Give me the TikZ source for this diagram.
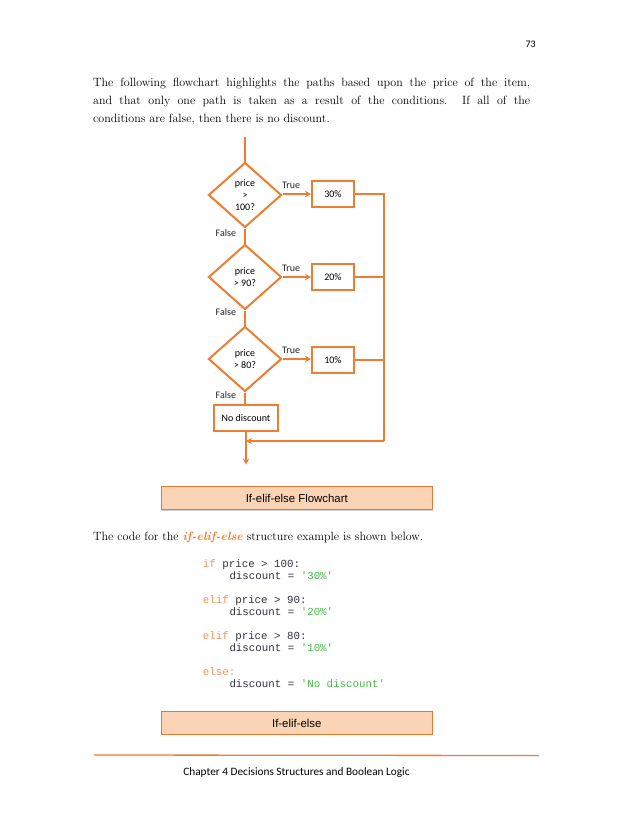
\documentclass[tikz,border=0pt]{standalone}
\usepackage{fontspec}
\setmonofont{Liberation Mono}
\newfontfamily\calibri{Carlito}
\newfontfamily\arialfont{Liberation Sans}
\usetikzlibrary{shapes.geometric,arrows.meta,shadows}

\definecolor{flowline}{RGB}{237,125,49}
\definecolor{capfill}{RGB}{251,212,181}
\definecolor{capline}{RGB}{226,120,52}
\definecolor{kwcol}{RGB}{242,150,85}
\definecolor{strcol}{RGB}{70,190,70}
\definecolor{codecol}{RGB}{50,50,60}

\tikzset{
	flow/.style={line width=2pt, color=flowline},
	flowarrow/.style={flow, -{Stealth[length=6pt,width=6.5pt,inset=2pt]}},
	decision/.style={diamond, draw=flowline, line width=2pt, inner sep=0pt,
		minimum width=73pt, minimum height=65pt, align=center,
		font=\calibri\fontsize{10}{12.3}\selectfont},
	result/.style={rectangle, draw=flowline, line width=2pt, inner sep=0pt,
		minimum width=42pt, minimum height=26pt, font=\calibri\fontsize{10}{12}\selectfont},
	flowlabel/.style={font=\calibri\fontsize{10}{12}\selectfont, inner sep=0pt, text=black!85},
	caption/.style={rectangle, draw=capline, fill=capfill, line width=1pt,
		minimum width=271.5pt, minimum height=23.3pt, inner sep=0pt,
		drop shadow={shadow xshift=0.8pt, shadow yshift=-0.8pt, fill=black!35},
		font=\arialfont\fontsize{11.4}{13}\selectfont},
	codeline/.style={anchor=base west, inner sep=0pt, text=codecol,
		font=\ttfamily\fontsize{10.8}{12}\selectfont}
}

\newcommand{\kw}[1]{\textcolor{kwcol}{#1}}
\newcommand{\str}[1]{\textcolor{strcol}{#1}}

\begin{document}
\begin{tikzpicture}[x=1pt, y=-1pt]
	%%%%% START %%%%%
	\useasboundingbox[fill=white] (0,0) rectangle (630,815);
	
	\node[anchor=base east, inner sep=0pt, font=\calibri\fontsize{10}{12}\selectfont] (pagenum) at (536,47.5) {73};
	
	\node[anchor=north west, inner sep=0pt, text width=437pt, align=justify,
		font=\fontsize{12}{18.3}\selectfont] (intro) at (93,77.7)
		{The following flowchart highlights the paths based upon the price of the item,\linebreak
		and that only one path is taken as a result of the conditions.\ \ If all of the\linebreak
		conditions are false, then there is no discount.};
	
	% decisions
	\node[decision] (dec1) at (245,195) {price\\>\\100?};
	\node[decision] (dec2) at (245,277) {price\\> 90?};
	\node[decision] (dec3) at (245,359) {price\\> 80?};
	
	% results
	\node[result] (res1) at (333,194) {30\%};
	\node[result] (res2) at (333,277) {20\%};
	\node[result] (res3) at (333,360) {10\%};
	\node[result, minimum width=64pt] (nodisc) at (246,418) {No discount};
	
	\coordinate (start) at (245,137);
	\coordinate (busTop) at (384,194);
	\coordinate (busBot) at (384,441);
	\coordinate (stop) at (246,464.5);
	
	\draw[flow] (start) -- (dec1.north);
	\draw[flow] (dec1.south) -- (dec2.north) node[flowlabel, pos=0.28, left=8pt] {False};
	\draw[flow] (dec2.south) -- (dec3.north) node[flowlabel, pos=0.12, left=8pt] {False};
	\draw[flow] (dec3.south) -- (dec3.south |- nodisc.north) node[flowlabel, pos=0.2, left=8pt] {False};
	
	\draw[flowarrow] (dec1.east |- res1.west) -- (res1.west) node[flowlabel, pos=0.3, above=4pt] {True};
	\draw[flowarrow] (dec2.east) -- (dec2.east -| res2.west) node[flowlabel, pos=0.3, above=4pt] {True};
	\draw[flowarrow] (dec3.east) -- (dec3.east -| res3.west) node[flowlabel, pos=0.3, above=4pt] {True};
	
	\draw[flow] (res1.east) -- (busTop) -- (busBot);
	\draw[flow] (res2.east) -- (res2.east -| busTop);
	\draw[flow] (res3.east) -- (res3.east -| busTop);
	\draw[flowarrow] (busBot) -- (stop |- busBot);
	\draw[flowarrow] (nodisc.south) -- (stop);
	
	\node[caption] (cap1) at (296.8,498.3) {If-elif-else Flowchart};
	
	\node[anchor=base west, inner sep=0pt, font=\fontsize{12}{18.3}\selectfont] (codeintro) at (93,540)
		{The code for the \textcolor{flowline}{\textbf{\textit{if-elif-else}}} structure example is shown below.};
	
	% code listing
	\node[codeline] (c1) at (202.7,567.5) {\kw{if} price > 100:};
	\node[codeline] (c2) at (229.3,579.5) {discount = \str{'30\%'}};
	\node[codeline] (c3) at (202.7,603.8) {\kw{elif} price > 90:};
	\node[codeline] (c4) at (229.3,615.7) {discount = \str{'20\%'}};
	\node[codeline] (c5) at (202.7,639.8) {\kw{elif} price > 80:};
	\node[codeline] (c6) at (229.3,651.7) {discount = \str{'10\%'}};
	\node[codeline] (c7) at (202.7,675.8) {\kw{else:}};
	\node[codeline] (c8) at (229.3,687.7) {discount = \str{'No discount'}};
	
	\node[caption] (cap2) at (296.8,723) {If-elif-else};
	
	\draw[line width=1.3pt, color=flowline] (94,755) -- (539,755.5);
	\node[anchor=base, inner sep=0pt, font=\calibri\fontsize{11.3}{13}\selectfont] (footer) at (296.5,775)
		{Chapter 4 Decisions Structures and Boolean Logic};
	%%%%% END %%%%%
\end{tikzpicture}
\end{document}
